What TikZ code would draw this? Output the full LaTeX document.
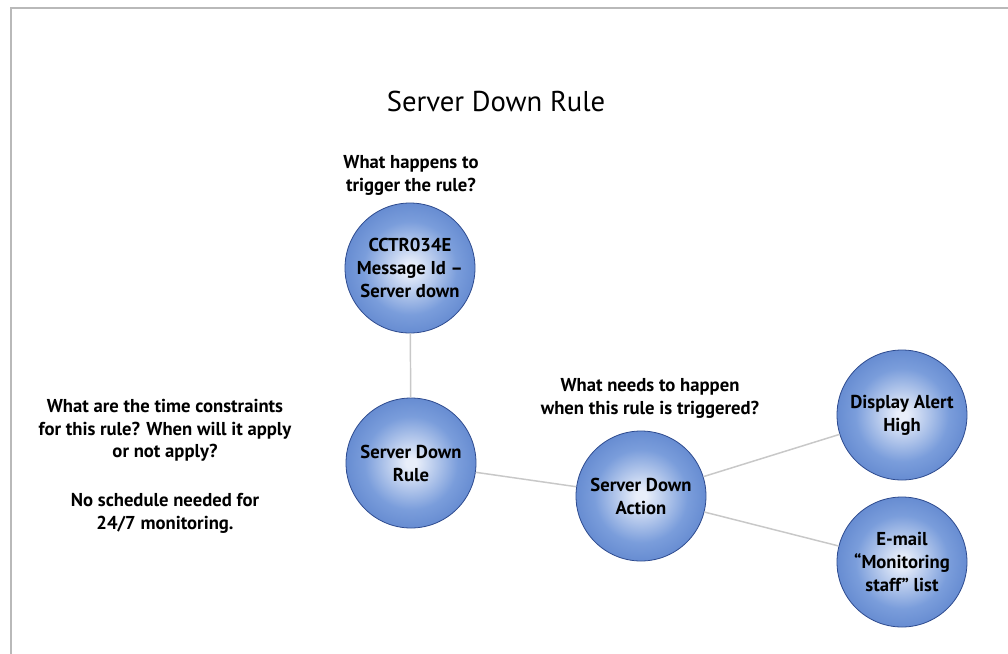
\documentclass[tikz,border=0pt]{standalone}
\usepackage{fontspec}
\setmainfont{PT Sans}
\definecolor{ballin}{RGB}{232,238,250}
\definecolor{ballmidA}{RGB}{122,157,219}
\definecolor{ballmidB}{RGB}{82,122,199}
\definecolor{ballout}{RGB}{58,96,178}
\definecolor{ballrim}{RGB}{45,74,142}
\definecolor{linkgray}{RGB}{200,200,200}
\definecolor{framegray}{RGB}{185,185,185}
% light centre fading to blue right at the circle's edge
\pgfdeclareradialshading{ballshade}{\pgfpoint{0bp}{0bp}}{%
  color(0bp)=(ballin); color(2bp)=(ballin); color(18bp)=(ballmidA);
  color(33bp)=(ballmidB); color(50bp)=(ballout); color(100bp)=(ballout)}
\tikzset{
  ball/.style={circle, minimum size=97.5pt, inner sep=0pt, draw=ballrim, line width=0.6pt,
    shading=ballshade, align=center,
    font=\fontsize{14}{17.2}\selectfont\bfseries},
  note/.style={align=center, font=\fontsize{14}{17.2}\selectfont\bfseries},
  link/.style={draw=linkgray, line width=1.1pt},
}
\begin{document}
\begin{tikzpicture}[x=0.75pt,y=-0.75pt]
\useasboundingbox (0,0) rectangle (1008,654);
\fill[white] (0,0) rectangle (1008,654);
% page frame
\draw[framegray, line width=1.6pt] (1008,8) -- (11,8) -- (11,654);

\node[font=\fontsize{21.5}{24}\selectfont] (title) at (496,101) {Server Down Rule};

% circles
\node[ball] (msg)    at (410,268) {CCTR034E\\Message Id –\\Server down};
\node[ball] (rule)   at (411,463) {Server Down\\Rule};
\node[ball] (action) at (641,496) {Server Down\\Action};
\node[ball] (alert)  at (902,415) {Display Alert\\High};
\node[ball] (mail)   at (902,562) {E-mail\\“Monitoring\\staff” list};

% connectors
\draw[link] (msg) -- (rule);
\draw[link] (rule) -- (action);
\draw[link] (action) -- (alert);
\draw[link] (action) -- (mail);

% questions
\node[note] (qtrig) at (411,175) {What happens to\\trigger the rule?};
\node[note] (qact)  at (650,398) {What needs to happen\\when this rule is triggered?};
\node[note] (qtime) at (165,466) {What are the time constraints\\for this rule? When will it apply\\or not apply?\\[19pt]No schedule needed for\\24/7 monitoring.};
\end{tikzpicture}
\end{document}
